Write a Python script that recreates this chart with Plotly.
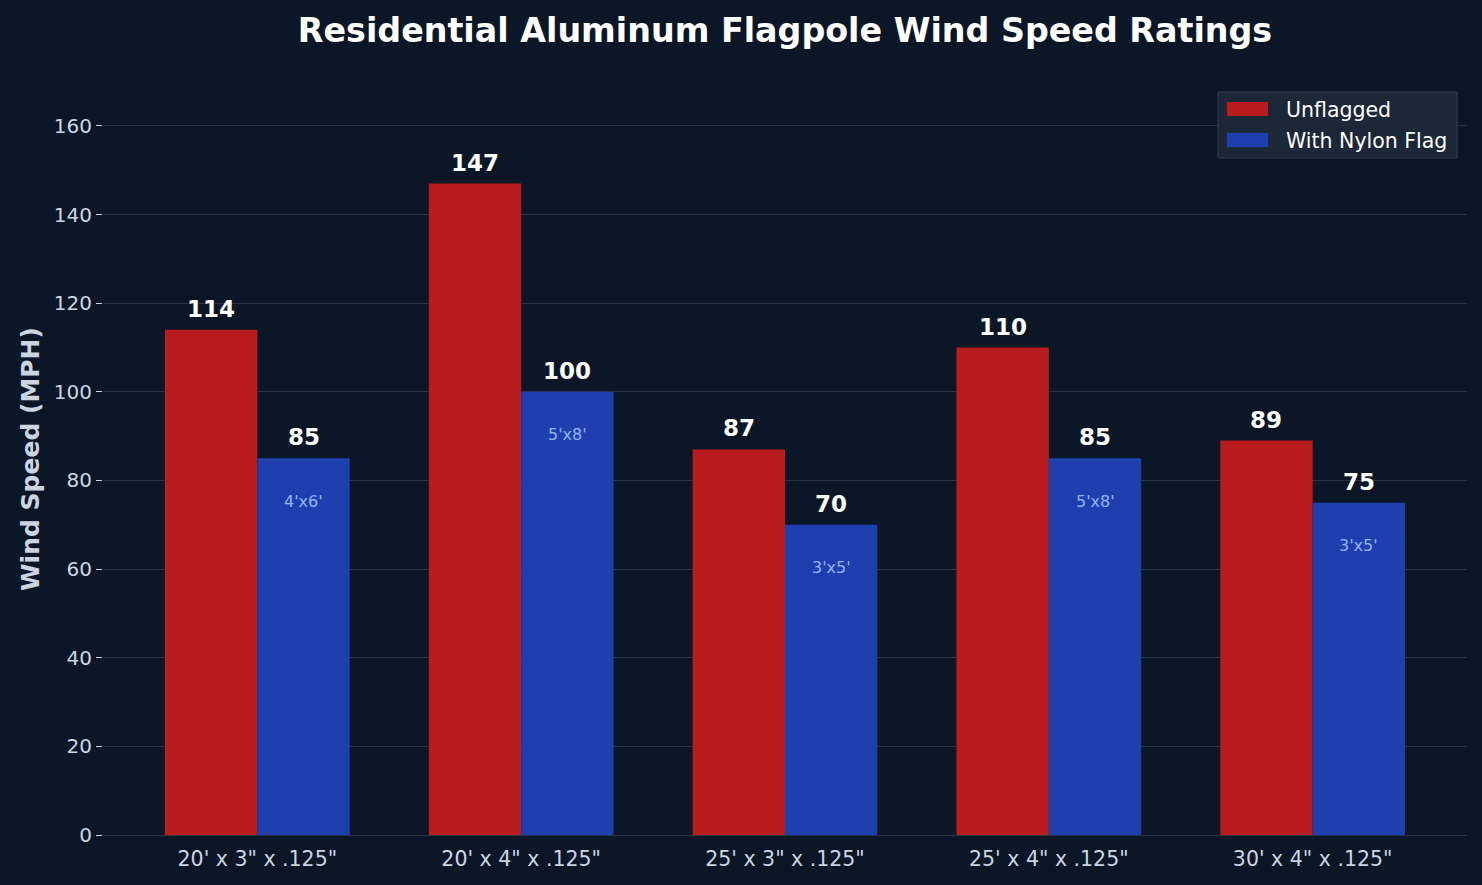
import plotly.graph_objects as go

categories = ["20' x 3\" x .125\"", "20' x 4\" x .125\"", "25' x 3\" x .125\"",
              "25' x 4\" x .125\"", "30' x 4\" x .125\""]
unflagged = [114, 147, 87, 110, 89]
with_flag = [85, 100, 70, 85, 75]
flag_sizes = ["4'x6'", "5'x8'", "3'x5'", "5'x8'", "3'x5'"]
y_ticks = [0, 20, 40, 60, 80, 100, 120, 140, 160]
series_names = ["Unflagged", "With Nylon Flag"]

BG = "#0b1727"
RED = "#b91c1c"
BLUE = "#1e40af"
TXT = "#cbd5e1"
bw = 0.35
idx = list(range(len(categories)))

L, R, T, B = 103, 1467, 83, 835
W, H = 1482, 885
def px(x):
    return (x - L) / (R - L)
def py(y):
    return (B - y) / (B - T)

fig = go.Figure()
fig.add_trace(go.Bar(x=[i - bw / 2 for i in idx], y=unflagged, width=bw, name=series_names[0],
                     marker=dict(color=RED, line=dict(width=0)), hoverinfo="y", showlegend=False))
fig.add_trace(go.Bar(x=[i + bw / 2 for i in idx], y=with_flag, width=bw, name=series_names[1],
                     marker=dict(color=BLUE, line=dict(width=0)), hoverinfo="y", showlegend=False))

ann = []
for i, (u, w, s) in enumerate(zip(unflagged, with_flag, flag_sizes)):
    ann.append(dict(x=i - bw / 2, y=u, text=f"<b>{u}</b>", showarrow=False, yshift=21,
                    font=dict(family="DejaVu Sans", size=23, color="white")))
    ann.append(dict(x=i + bw / 2, y=w, text=f"<b>{w}</b>", showarrow=False, yshift=21,
                    font=dict(family="DejaVu Sans", size=23, color="white")))
    ann.append(dict(x=i + bw / 2, y=w, text=s, showarrow=False, yshift=-43,
                    font=dict(family="DejaVu Sans", size=16, color="#93b4f5")))

# custom legend (box, swatches, labels)
shapes = [
    dict(type="rect", xref="paper", yref="paper", x0=px(1218), x1=px(1457), y0=py(158), y1=py(92),
         fillcolor="#1c2738", line=dict(color="#334155", width=1), layer="above"),
    dict(type="rect", xref="paper", yref="paper", x0=px(1227), x1=px(1268), y0=py(116), y1=py(102),
         fillcolor=RED, line=dict(width=0), layer="above"),
    dict(type="rect", xref="paper", yref="paper", x0=px(1227), x1=px(1268), y0=py(147), y1=py(133),
         fillcolor=BLUE, line=dict(width=0), layer="above"),
]
ann.append(dict(xref="paper", yref="paper", x=px(1284), y=py(110), xanchor="left", yanchor="middle",
                text=series_names[0], showarrow=False,
                font=dict(family="DejaVu Sans", size=20.5, color="white")))
ann.append(dict(xref="paper", yref="paper", x=px(1284), y=py(141), xanchor="left", yanchor="middle",
                text=series_names[1], showarrow=False,
                font=dict(family="DejaVu Sans", size=20.5, color="white")))

fig.update_layout(
    width=W, height=H,
    paper_bgcolor=BG, plot_bgcolor=BG,
    margin=dict(l=L, r=W - R, t=T, b=H - B),
    barmode="overlay",
    showlegend=False,
    title=dict(text="<b>Residential Aluminum Flagpole Wind Speed Ratings</b>",
               x=(L + R) / 2 / W, xanchor="center", y=1 - 30 / H, yanchor="middle",
               font=dict(family="DejaVu Sans", size=33.3, color="white")),
    font=dict(family="DejaVu Sans", color=TXT),
    xaxis=dict(range=[-0.585, 4.585], tickmode="array", tickvals=idx, ticktext=categories,
               tickfont=dict(size=20.5, color=TXT), ticks="outside", ticklen=5, tickcolor="#0f1a2a",
               showgrid=False, zeroline=False, showline=True, linecolor="#2a3544", linewidth=1),
    yaxis=dict(range=[0, 169.7], tickmode="array", tickvals=y_ticks,
               tickfont=dict(size=20, color=TXT), ticks="outside", ticklen=6, tickcolor=TXT,
               showgrid=True, gridcolor="#2a3544", gridwidth=1, zeroline=False, showline=False,
               title=dict(text="<b>Wind Speed (MPH)</b>", font=dict(size=25, color=TXT), standoff=7)),
    shapes=shapes,
    annotations=ann,
)

fig.write_html("out.html")
